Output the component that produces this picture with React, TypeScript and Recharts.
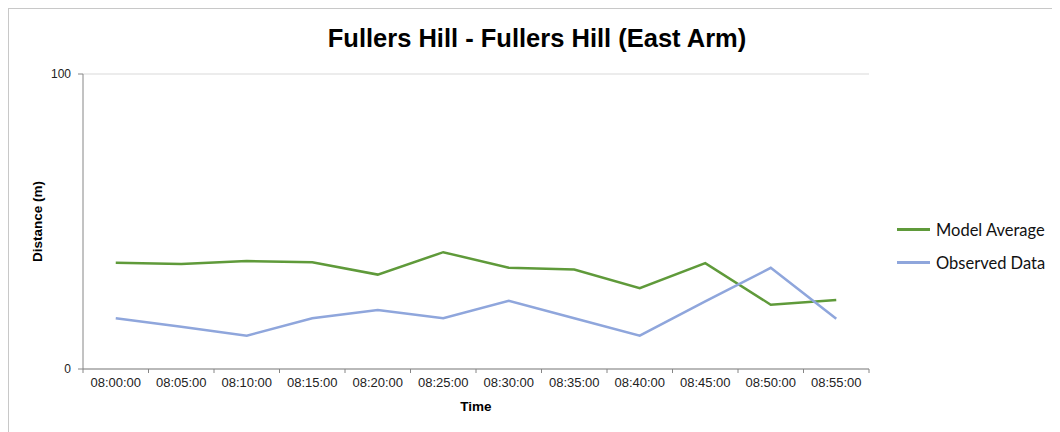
import React from "react";
import {
  LineChart,
  Line,
  XAxis,
  YAxis,
  CartesianGrid,
  Legend,
} from "recharts";

const TITLE = "Fullers Hill - Fullers Hill (East Arm)";
const times = [
  "08:00:00",
  "08:05:00",
  "08:10:00",
  "08:15:00",
  "08:20:00",
  "08:25:00",
  "08:30:00",
  "08:35:00",
  "08:40:00",
  "08:45:00",
  "08:50:00",
  "08:55:00",
];
const modelAverage = [36.0, 35.6, 36.6, 36.2, 32.0, 39.6, 34.3, 33.7, 27.4, 35.9, 21.8, 23.4];
const observedData = [17.2, 14.3, 11.3, 17.2, 20.0, 17.2, 23.1, 17.2, 11.3, 22.9, 34.3, 17.0];
const yTicks = [0, 100];

const data = times.map((t, i) => ({
  time: t,
  model: modelAverage[i],
  observed: observedData[i],
}));

const CHART_W = 1050;
const CHART_H = 428;
const MARGIN = { top: 65, right: 190, left: 4, bottom: 18 };
const Y_AXIS_W = 70;
const PLOT_W = CHART_W - MARGIN.left - MARGIN.right - Y_AXIS_W;
const BAND = PLOT_W / times.length;

const GREEN = "#5f9a3a";
const BLUE = "#8fa6dc";
const AXIS = "#868686";
const FONT = "'Liberation Sans', Arial, sans-serif";

const XTick = (props: any) => {
  const { x, y, payload, index } = props;
  const axisY = y - 9;
  return (
    <g>
      <line x1={x - BAND / 2} x2={x - BAND / 2} y1={axisY} y2={axisY + 4} stroke={AXIS} strokeWidth={1} />
      {index === times.length - 1 && (
        <line x1={x + BAND / 2} x2={x + BAND / 2} y1={axisY} y2={axisY + 4} stroke={AXIS} strokeWidth={1} />
      )}
      <text x={x} y={y} dy="0.71em" textAnchor="middle" fontSize={13} fill="#222" fontFamily={FONT}>
        {payload.value}
      </text>
    </g>
  );
};

const LegendContent = () => {
  const items = [
    { label: "Model Average", color: GREEN },
    { label: "Observed Data", color: BLUE },
  ];
  return (
    <div style={{ fontFamily: "Lato, 'Open Sans', sans-serif", fontSize: 16.5, color: "#111" }}>
      {items.map((it) => (
        <div key={it.label} style={{ display: "flex", alignItems: "center", height: 33 }}>
          <div style={{ width: 33, height: 2.5, background: it.color, marginRight: 6 }} />
          <span>{it.label}</span>
        </div>
      ))}
    </div>
  );
};

export default function App() {
  return (
    <div
      style={{
        position: "relative",
        width: 1052,
        height: 430,
        boxSizing: "border-box",
        border: "1px solid #c8c8c8",
        background: "#fff",
      }}
    >
      <style>{`body{overflow:hidden}`}</style>
      <div
        style={{
          position: "absolute",
          top: 15,
          left: 3,
          width: "100%",
          textAlign: "center",
          fontFamily: FONT,
          fontWeight: "bold",
          fontSize: 25.5,
          lineHeight: "28px",
          color: "#000",
        }}
      >
        {TITLE}
      </div>
      <LineChart width={CHART_W} height={CHART_H} data={data} margin={MARGIN}>
        <CartesianGrid vertical={false} stroke="#d9d9d9" />
        <XAxis
          dataKey="time"
          height={50}
          padding={{ left: BAND / 2, right: BAND / 2 }}
          axisLine={{ stroke: AXIS }}
          tickLine={false}
          tickSize={0}
          tickMargin={9}
          interval={0}
          tick={<XTick />}
          label={{
            value: "Time",
            position: "insideBottom",
            offset: 8,
            style: { fontFamily: FONT, fontWeight: "bold", fontSize: 13.5, fill: "#000" },
          }}
        />
        <YAxis
          width={Y_AXIS_W}
          domain={[0, 100]}
          ticks={yTicks}
          axisLine={{ stroke: AXIS }}
          tickLine={{ stroke: AXIS }}
          tickSize={5}
          tickMargin={7}
          tick={{ fontSize: 12, fill: "#222", fontFamily: FONT }}
          label={{
            value: "Distance (m)",
            angle: -90,
            position: "insideLeft",
            offset: 24,
            style: { textAnchor: "middle", fontFamily: FONT, fontWeight: "bold", fontSize: 13.5, fill: "#000" },
          }}
        />
        <Legend
          layout="vertical"
          align="center"
          verticalAlign="middle"
          content={<LegendContent />}
          wrapperStyle={{ position: "absolute", left: 888, top: 204, width: 160 }}
        />
        <Line
          type="linear"
          dataKey="model"
          name="Model Average"
          stroke={GREEN}
          strokeWidth={2.5}
          dot={false}
          isAnimationActive={false}
        />
        <Line
          type="linear"
          dataKey="observed"
          name="Observed Data"
          stroke={BLUE}
          strokeWidth={2.5}
          dot={false}
          isAnimationActive={false}
        />
      </LineChart>
    </div>
  );
}
